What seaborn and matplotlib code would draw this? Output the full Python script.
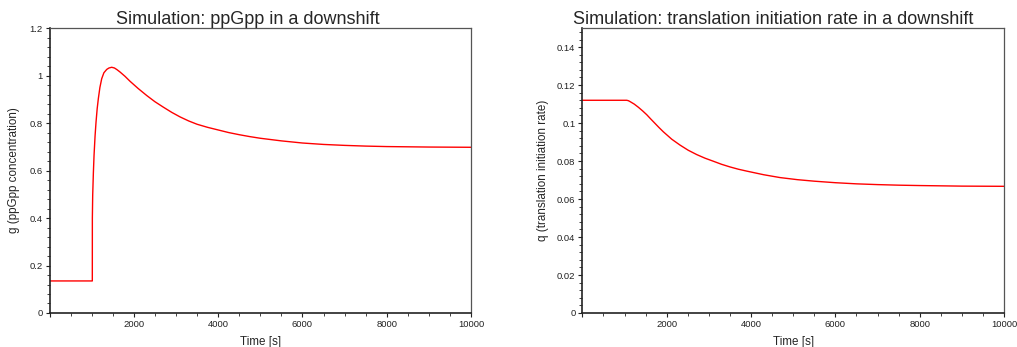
import matplotlib
matplotlib.use("Agg")
import matplotlib.pyplot as plt
import seaborn as sns
import pandas as pd
from matplotlib.ticker import MultipleLocator, FuncFormatter

# ppGpp concentration g over time
time_g = [0, 1015, 1016, 1024, 1040, 1056, 1080, 1103, 1130, 1158, 1195, 1238,
          1290, 1357, 1410, 1475, 1540, 1600, 1673, 1790, 1910, 2100, 2306,
          2500, 2700, 2900, 3096, 3300, 3500, 3750, 4000, 4250, 4500, 4750,
          5000, 5500, 6000, 6500, 7000, 7500, 8000, 9000, 10000]
g_vals = [0.135, 0.135, 0.40, 0.496, 0.590, 0.664, 0.745, 0.804, 0.860, 0.903,
          0.950, 0.987, 1.012, 1.026, 1.032, 1.035, 1.032, 1.025, 1.015, 0.997,
          0.976, 0.946, 0.916, 0.890, 0.867, 0.845, 0.826, 0.809, 0.795, 0.782,
          0.771, 0.760, 0.751, 0.743, 0.736, 0.725, 0.716, 0.710, 0.706, 0.703,
          0.701, 0.699, 0.698]

# translation initiation rate q over time
time_q = [0, 1053, 1090, 1132, 1230, 1330, 1430, 1527, 1620, 1720, 1820, 1921,
          2120, 2317, 2510, 2713, 2910, 3107, 3300, 3502, 3700, 3899, 4300,
          4688, 5100, 5500, 6000, 6500, 7000, 7500, 8000, 9000, 10000]
q_vals = [0.1120, 0.1120, 0.1118, 0.1113, 0.1100, 0.1083, 0.1064, 0.1044,
          0.1022, 0.0999, 0.0976, 0.0954, 0.0915, 0.0884, 0.0857, 0.0834,
          0.0815, 0.0799, 0.0783, 0.0769, 0.0757, 0.0747, 0.0728, 0.0713,
          0.0702, 0.0694, 0.0686, 0.0680, 0.0676, 0.0673, 0.0671, 0.0668,
          0.0667]

titles = ["Simulation: ppGpp in a downshift",
          "Simulation: translation initiation rate in a downshift"]
ylabels = ["g (ppGpp concentration)", "q (translation initiation rate)"]

sns.set_style("white")
plt.rcParams["font.family"] = ["Liberation Sans", "DejaVu Sans"]

fig = plt.figure(figsize=(10.17, 3.47), dpi=100)
ax1 = fig.add_axes([0.0487, 0.098, 0.4145, 0.821])
ax2 = fig.add_axes([0.5726, 0.098, 0.4147, 0.821])

df_g = pd.DataFrame({"t": time_g, "v": g_vals})
df_q = pd.DataFrame({"t": time_q, "v": q_vals})

sns.lineplot(data=df_g, x="t", y="v", ax=ax1, color="red", lw=1.0,
             estimator=None, sort=False)
sns.lineplot(data=df_q, x="t", y="v", ax=ax2, color="red", lw=1.0,
             estimator=None, sort=False)

ax1.set_ylim(0, 1.2)
ax1.yaxis.set_major_locator(MultipleLocator(0.2))
ax1.yaxis.set_minor_locator(MultipleLocator(0.04))
ax2.set_ylim(0, 0.15)
ax2.yaxis.set_major_locator(MultipleLocator(0.02))
ax2.yaxis.set_minor_locator(MultipleLocator(0.004))

fmt = FuncFormatter(lambda v, p: "%g" % round(v, 6))
xfmt = FuncFormatter(lambda v, p: "" if v == 0 else "%d" % v)

for ax, title, ylab, tx, lp in zip([ax1, ax2], titles, ylabels,
                                   [0.471, 0.453], [7, 6]):
    ax.set_xlim(0, 10000)
    ax.xaxis.set_major_locator(MultipleLocator(2000))
    ax.xaxis.set_minor_locator(MultipleLocator(500))
    ax.xaxis.set_major_formatter(xfmt)
    ax.yaxis.set_major_formatter(fmt)
    ax.set_title(title, fontsize=13, x=tx, pad=2)
    ax.set_xlabel("Time [s]", fontsize=8.4, labelpad=5)
    ax.set_ylabel(ylab, fontsize=8.4, labelpad=lp)
    ax.tick_params(axis="both", which="major", direction="out", length=3,
                   width=0.8, labelsize=6.8, colors="#222222", pad=2,
                   bottom=True, left=True)
    ax.tick_params(axis="both", which="minor", direction="out", length=2,
                   width=0.6, bottom=True, left=True, colors="#222222")
    for side in ["left", "bottom"]:
        ax.spines[side].set_color("#222222")
        ax.spines[side].set_linewidth(1.2)
    for side in ["top", "right"]:
        ax.spines[side].set_color("#555555")
        ax.spines[side].set_linewidth(0.9)

fig.savefig("out.png", dpi=100)
